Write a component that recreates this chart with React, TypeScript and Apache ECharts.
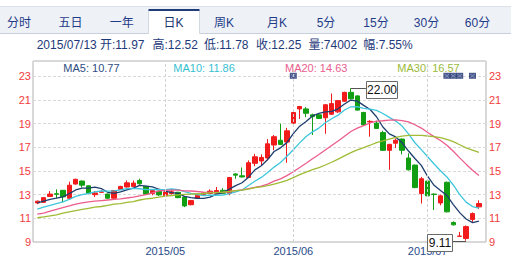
import { useEffect, useRef } from 'react';
import * as echarts from 'echarts';

const dates = [
  '2015/04/02', '2015/04/03', '2015/04/07', '2015/04/08', '2015/04/09', '2015/04/10', '2015/04/13', '2015/04/14', '2015/04/15', '2015/04/16',
  '2015/04/17', '2015/04/20', '2015/04/21', '2015/04/22', '2015/04/23', '2015/04/24', '2015/04/27', '2015/04/28', '2015/04/29', '2015/04/30',
  '2015/05/04', '2015/05/05', '2015/05/06', '2015/05/07', '2015/05/08', '2015/05/11', '2015/05/12', '2015/05/13', '2015/05/14', '2015/05/15',
  '2015/05/18', '2015/05/19', '2015/05/20', '2015/05/21', '2015/05/22', '2015/05/25', '2015/05/26', '2015/05/27', '2015/05/28', '2015/05/29',
  '2015/06/01', '2015/06/02', '2015/06/03', '2015/06/04', '2015/06/05', '2015/06/08', '2015/06/09', '2015/06/10', '2015/06/11', '2015/06/12',
  '2015/06/15', '2015/06/16', '2015/06/17', '2015/06/18', '2015/06/19', '2015/06/23', '2015/06/24', '2015/06/25', '2015/06/26', '2015/06/29',
  '2015/06/30', '2015/07/01', '2015/07/02', '2015/07/03', '2015/07/06', '2015/07/07', '2015/07/08', '2015/07/09', '2015/07/10', '2015/07/13',
];

const opens = [
  12.30, 12.35, 12.85, 13.08, 13.37, 12.70, 13.90, 14.15, 13.75, 13.00,
  13.20, 13.05, 12.70, 13.45, 13.65, 13.70, 14.20, 13.70, 13.10, 13.30,
  12.90, 13.10, 13.20, 12.80, 12.15, 12.70, 13.00, 13.10, 13.12, 13.37,
  13.10, 14.75, 14.60, 14.45, 15.65, 15.85, 16.10, 17.20, 17.60, 17.45,
  19.05, 20.25, 20.25, 19.75, 19.75, 19.50, 19.80, 20.00, 20.90, 21.65,
  21.35, 19.95, 19.15, 19.05, 18.25, 16.75, 17.35, 17.70, 16.10, 15.50,
  13.10, 14.15, 13.05, 12.30, 14.05, 10.65, 9.48, 9.30, 10.90, 11.97,
];
const closes = [
  12.45, 12.75, 13.05, 13.04, 12.82, 13.80, 14.30, 13.80, 13.10, 13.15,
  13.25, 12.70, 13.35, 13.70, 14.00, 13.98, 13.92, 13.05, 13.35, 12.98,
  13.22, 13.25, 12.75, 12.05, 12.50, 12.95, 13.15, 13.30, 13.35, 13.12,
  14.45, 14.65, 14.50, 15.70, 16.20, 16.15, 17.30, 17.90, 17.25, 18.40,
  19.95, 20.45, 19.88, 19.60, 19.45, 20.60, 20.70, 20.95, 21.65, 21.10,
  20.15, 18.90, 19.20, 18.60, 16.75, 17.25, 17.60, 16.75, 15.10, 13.60,
  14.35, 12.90, 13.02, 12.90, 11.55, 10.45, 9.50, 10.30, 11.40, 12.25,
];
const lows = [
  12.20, 12.30, 12.80, 12.70, 12.35, 12.60, 13.85, 13.60, 13.05, 12.80,
  13.15, 12.65, 12.65, 13.40, 13.60, 13.65, 13.85, 13.00, 12.95, 12.90,
  12.85, 13.00, 12.70, 11.95, 12.10, 12.65, 12.95, 13.05, 13.10, 13.05,
  12.95, 14.35, 14.45, 14.40, 15.40, 15.50, 15.90, 16.75, 17.20, 15.70,
  18.95, 19.40, 19.55, 18.05, 19.40, 18.15, 19.75, 19.90, 20.85, 21.05,
  20.10, 18.85, 17.90, 18.55, 16.70, 15.10, 16.95, 16.40, 15.05, 13.55,
  12.25, 12.85, 11.70, 12.10, 11.50, 10.40, 9.48, 9.11, 10.70, 11.78,
];
const highs = [
  12.50, 12.80, 13.30, 13.45, 13.40, 14.10, 14.35, 14.20, 13.80, 13.30,
  13.40, 13.10, 13.40, 13.75, 14.20, 14.20, 14.35, 13.75, 13.45, 13.35,
  13.25, 13.40, 13.25, 12.85, 12.55, 13.00, 13.20, 13.45, 13.65, 13.55,
  14.50, 14.80, 15.30, 15.90, 16.45, 16.40, 17.70, 18.05, 19.00, 18.65,
  20.00, 20.50, 20.40, 19.85, 19.85, 20.65, 21.55, 21.00, 21.70, 22.00,
  21.40, 20.00, 19.30, 19.25, 18.40, 17.30, 17.75, 17.75, 16.50, 15.55,
  14.50, 14.20, 13.10, 13.00, 14.10, 10.75, 9.85, 10.40, 11.50, 12.52,
];

const ma5 = [
  12.30, 12.45, 12.60, 12.70, 12.82, 13.09, 13.40, 13.55, 13.56, 13.63,
  13.52, 13.20, 13.11, 13.23, 13.40, 13.55, 13.79, 13.73, 13.66, 13.46,
  13.30, 13.17, 13.11, 12.85, 12.75, 12.70, 12.68, 12.79, 13.05, 13.17,
  13.47, 13.77, 14.01, 14.48, 15.10, 15.44, 15.97, 16.65, 16.96, 17.40,
  18.16, 18.79, 19.19, 19.66, 19.87, 20.00, 20.05, 20.26, 20.67, 21.00,
  20.91, 20.55, 20.20, 19.59, 18.72, 18.14, 17.88, 17.39, 16.69, 16.06,
  15.48, 14.54, 13.79, 13.35, 12.94, 12.16, 11.48, 10.94, 10.64, 10.77,
];
const ma10 = [
  11.78, 11.95, 12.10, 12.25, 12.40, 12.60, 12.85, 13.00, 13.10, 13.23,
  13.31, 13.30, 13.33, 13.40, 13.52, 13.53, 13.50, 13.42, 13.45, 13.43,
  13.43, 13.48, 13.42, 13.26, 13.11, 13.00, 12.93, 12.95, 12.95, 12.96,
  13.09, 13.23, 13.40, 13.77, 14.14, 14.46, 14.87, 15.33, 15.72, 16.25,
  16.80, 17.38, 17.92, 18.31, 18.63, 19.08, 19.42, 19.72, 20.16, 20.43,
  20.45, 20.30, 20.23, 20.13, 19.86, 19.53, 19.22, 18.80, 18.14, 17.39,
  16.81, 16.21, 15.59, 15.02, 14.50, 13.82, 13.01, 12.37, 12.00, 11.86,
];
const ma20 = [
  11.35, 11.45, 11.60, 11.75, 11.90, 12.05, 12.20, 12.30, 12.40, 12.45,
  12.50, 12.55, 12.60, 12.65, 12.72, 12.80, 12.90, 13.00, 13.15, 13.33,
  13.37, 13.39, 13.38, 13.33, 13.31, 13.27, 13.21, 13.19, 13.20, 13.20,
  13.26, 13.35, 13.41, 13.51, 13.62, 13.73, 13.90, 14.14, 14.34, 14.61,
  14.94, 15.30, 15.66, 16.04, 16.39, 16.77, 17.15, 17.53, 17.94, 18.34,
  18.63, 18.84, 19.07, 19.22, 19.25, 19.30, 19.32, 19.26, 19.15, 18.91,
  18.63, 18.25, 17.91, 17.58, 17.18, 16.67, 16.11, 15.58, 15.07, 14.63,
];
const ma30 = [
  11.05, 11.12, 11.20, 11.30, 11.45, 11.55, 11.65, 11.75, 11.85, 11.95,
  12.00, 12.10, 12.20, 12.25, 12.35, 12.42, 12.55, 12.65, 12.70, 12.80,
  12.87, 12.93, 12.98, 13.02, 13.05, 13.08, 13.10, 13.15, 13.18, 13.21,
  13.27, 13.34, 13.38, 13.47, 13.59, 13.66, 13.76, 13.90, 14.04, 14.21,
  14.44, 14.70, 14.91, 15.11, 15.29, 15.51, 15.74, 16.00, 16.28, 16.55,
  16.78, 16.97, 17.18, 17.40, 17.54, 17.69, 17.84, 17.95, 18.01, 18.02,
  18.02, 17.96, 17.91, 17.82, 17.67, 17.48, 17.22, 16.96, 16.77, 16.57,
];

const maNames = ['MA5', 'MA10', 'MA20', 'MA30'];
const maLegendValues = ['10.77', '11.86', '14.63', '16.57'];

const yTicks = [9, 11, 13, 15, 17, 19, 21, 23];
const monthStarts = ['2015/05/04', '2015/06/01', '2015/07/01'];
const eventDates = ['2015/06/01', '2015/07/06', '2015/07/07', '2015/07/08', '2015/07/10'];

const tabLabels = ['分时', '五日', '一年', '日K', '周K', '月K', '5分', '15分', '30分', '60分'];
const selectedTab = 3;
const infoDate = '2015/07/13';
const infoLabels = ['开', '高', '低', '收', '量', '幅'];
const infoValues = ['11.97', '12.52', '11.78', '12.25', '74002', '7.55%'];

// ---- styles / layout ----
const FONT = '"Liberation Sans", Arial, "Noto Sans CJK SC", sans-serif';
const UP = '#f21b1b';
const DOWN = '#129e12';
const MA_COLORS = ['#1f3e6e', '#3fc6dc', '#ec5d8c', '#9fbc34'];
const LEGEND_COLORS = ['#2e4d82', '#38bfd2', '#e8608f', '#9cba3a'];
const LEGEND_X = [63.3, 173.3, 285, 397.3];
const TAB_X = [19, 70.5, 121.7, 173.5, 224, 277, 326, 376, 426.5, 477.5];
const INFO_X = [36.7, 100, 152.5, 204, 256, 308.5, 363.3];
const Y_MIN = 9;
const Y_MAX = 24.3;
const EVENT_LEVEL = 23.05;

export default function App() {
  const ref = useRef<HTMLDivElement>(null);

  useEffect(() => {
    if (!ref.current) return;
    const chart = echarts.init(ref.current, null, { renderer: 'svg' });

    const yLabel = {
      color: '#f23c3c',
      fontSize: 11,
      fontFamily: FONT,
      formatter: (v: number) => (yTicks.includes(v) ? String(v) : ''),
    };

    const option: any = {
      animation: false,
      textStyle: { fontFamily: FONT },
      grid: [
        { left: 33, top: 61, width: 453, height: 181, show: true, borderColor: '#b2b2b2', borderWidth: 1 },
        { left: 34.1, top: 61, width: 448, height: 181 },
      ],
      xAxis: [
        { type: 'value', gridIndex: 0, show: false, min: 0, max: 1 },
        {
          type: 'category',
          gridIndex: 1,
          data: dates,
          boundaryGap: true,
          axisLine: { show: false },
          axisTick: { show: false },
          splitLine: { show: false },
          axisLabel: {
            interval: (_i: number, v: string) => monthStarts.includes(v),
            formatter: (v: string) => v.slice(0, 7),
            color: '#2a4a8a',
            fontSize: 11,
            fontFamily: FONT,
            margin: 3,
          },
        },
      ],
      yAxis: [
        {
          type: 'value', gridIndex: 0, position: 'left', min: Y_MIN, max: Y_MAX, interval: 2,
          axisLine: { show: false }, axisTick: { show: false },
          axisLabel: { ...yLabel, margin: 2 },
          splitLine: { show: true, lineStyle: { type: [3, 2], color: '#d9d9d9', width: 1 } },
        },
        {
          type: 'value', gridIndex: 0, position: 'right', min: Y_MIN, max: Y_MAX, interval: 2,
          axisLine: { show: false }, axisTick: { show: false },
          axisLabel: { ...yLabel, margin: 3 },
          splitLine: { show: false },
        },
        { type: 'value', gridIndex: 1, min: Y_MIN, max: Y_MAX, show: false, splitLine: { show: false } },
      ],
      series: [
        {
          type: 'candlestick',
          xAxisIndex: 1,
          yAxisIndex: 2,
          barWidth: 5,
          data: opens.map((o, i) => [o, closes[i], lows[i], highs[i]]),
          itemStyle: { color: UP, color0: DOWN, borderColor: UP, borderColor0: DOWN, borderWidth: 1 },
          markLine: {
            silent: true,
            symbol: ['none', 'none'],
            label: { show: false },
            lineStyle: { type: [3, 2], color: '#d2d2d2', width: 1 },
            data: monthStarts.map((d) => ({ xAxis: d })),
            animation: false,
          },
          z: 2,
        },
        ...[ma5, ma10, ma20, ma30].map((d, k) => ({
          type: 'line',
          name: maNames[k],
          xAxisIndex: 1,
          yAxisIndex: 2,
          data: d,
          symbol: 'none',
          showSymbol: false,
          silent: true,
          lineStyle: { width: 1.3, color: MA_COLORS[k] },
          z: 3,
        })),
        {
          type: 'scatter',
          xAxisIndex: 1,
          yAxisIndex: 2,
          data: eventDates.map((d) => [d, EVENT_LEVEL]),
          symbol: 'rect',
          symbolSize: [7, 6],
          itemStyle: { color: '#1d2f6e' },
          silent: true,
          z: 4,
        },
        {
          type: 'scatter',
          xAxisIndex: 1,
          yAxisIndex: 2,
          data: eventDates.map((d) => [d, EVENT_LEVEL]),
          symbol: 'path://M0,1L1,0L5,4L9,0L10,1L6,5L10,9L9,10L5,6L1,10L0,9L4,5Z',
          symbolSize: [5, 4],
          itemStyle: { color: '#9fb0d8' },
          silent: true,
          z: 5,
        },
      ],
    };

    chart.setOption(option);

    const g: any[] = [];
    // tab bar
    g.push({ type: 'rect', silent: true, shape: { x: 0, y: 7, width: 511, height: 26.5 }, style: { fill: '#eef1f6' } });
    g.push({ type: 'line', silent: true, shape: { x1: 0, y1: 6.5, x2: 511, y2: 6.5 }, style: { stroke: '#dde2ea', lineWidth: 1 } });
    g.push({ type: 'line', silent: true, shape: { x1: 0, y1: 33.5, x2: 511, y2: 33.5 }, style: { stroke: '#c8d0dc', lineWidth: 1 } });
    const tabL = 148.5;
    const tabW = 51;
    g.push({ type: 'rect', silent: true, shape: { x: tabL, y: 10, width: tabW, height: 25 }, style: { fill: '#ffffff' } });
    g.push({ type: 'line', silent: true, shape: { x1: tabL, y1: 10, x2: tabL, y2: 34 }, style: { stroke: '#d3d9e3', lineWidth: 1 } });
    g.push({ type: 'line', silent: true, shape: { x1: tabL + tabW, y1: 10, x2: tabL + tabW, y2: 34 }, style: { stroke: '#d3d9e3', lineWidth: 1 } });
    g.push({ type: 'rect', silent: true, shape: { x: tabL, y: 9, width: tabW, height: 2 }, style: { fill: '#1f3c78' } });
    tabLabels.forEach((t, i) => {
      g.push({
        type: 'text', silent: true,
        style: { text: t, x: TAB_X[i], y: 22.5, fill: i === selectedTab ? '#1a3470' : '#1f3c88', font: `12px ${FONT}`, align: 'center', verticalAlign: 'middle' },
      });
    });
    // info line
    const infoTexts = [infoDate, ...infoLabels.map((l, i) => `${l}:${infoValues[i]}`)];
    infoTexts.forEach((t, i) => {
      g.push({
        type: 'text', silent: true,
        style: { text: t, x: INFO_X[i], y: 45, fill: '#1e3a7a', font: `12px ${FONT}`, align: 'left', verticalAlign: 'middle' },
      });
    });
    // MA legend
    maNames.forEach((n, i) => {
      g.push({
        type: 'text', silent: true,
        style: { text: `${n}: ${maLegendValues[i]}`, x: LEGEND_X[i], y: 68, fill: LEGEND_COLORS[i], font: `11px ${FONT}`, align: 'left', verticalAlign: 'middle' },
      });
    });

    // high / low annotations
    const hiIdx = highs.indexOf(Math.max(...highs));
    const loIdx = lows.indexOf(Math.min(...lows));
    const hp = chart.convertToPixel({ xAxisIndex: 1, yAxisIndex: 2 } as any, [hiIdx, highs[hiIdx]]) as number[];
    const lp = chart.convertToPixel({ xAxisIndex: 1, yAxisIndex: 2 } as any, [loIdx, lows[loIdx]]) as number[];
    if (hp && lp) {
      const hw = 31, hh = 17;
      const hx = hp[0] + 15;
      const hy = hp[1] + 1 - hh / 2;
      g.push({ type: 'line', silent: true, z: 10, shape: { x1: hp[0], y1: Math.round(hp[1]) + 0.5, x2: hx, y2: Math.round(hp[1]) + 0.5 }, style: { stroke: '#555', lineWidth: 1 } });
      g.push({ type: 'rect', silent: true, z: 10, shape: { x: Math.round(hx) + 0.5, y: Math.round(hy) + 0.5, width: hw, height: hh }, style: { fill: '#fff', stroke: '#6a6a6a', lineWidth: 1 } });
      g.push({ type: 'text', silent: true, z: 11, style: { text: highs[hiIdx].toFixed(2), x: Math.round(hx) + 0.5 + hw / 2, y: Math.round(hy) + 0.5 + hh / 2, fill: '#111', font: `12px ${FONT}`, align: 'center', verticalAlign: 'middle' } });

      const lw = 25, lh = 17;
      const lx = lp[0] - 14 - lw;
      const ly = lp[1] + 1.5 - lh / 2;
      g.push({ type: 'line', silent: true, z: 10, shape: { x1: lx + lw, y1: Math.round(lp[1]) + 0.5, x2: lp[0], y2: Math.round(lp[1]) + 0.5 }, style: { stroke: '#555', lineWidth: 1 } });
      g.push({ type: 'rect', silent: true, z: 10, shape: { x: Math.round(lx) + 0.5, y: Math.round(ly) + 0.5, width: lw, height: lh }, style: { fill: '#fff', stroke: '#6a6a6a', lineWidth: 1 } });
      g.push({ type: 'text', silent: true, z: 11, style: { text: lows[loIdx].toFixed(2), x: Math.round(lx) + 0.5 + lw / 2, y: Math.round(ly) + 0.5 + lh / 2, fill: '#111', font: `12px ${FONT}`, align: 'center', verticalAlign: 'middle' } });
    }

    chart.setOption({ graphic: { elements: g } });

    return () => chart.dispose();
  }, []);

  return (
    <div
      ref={ref}
      style={{ position: 'fixed', left: 0, top: 0, width: 511, height: 256, background: '#ffffff' }}
    />
  );
}
